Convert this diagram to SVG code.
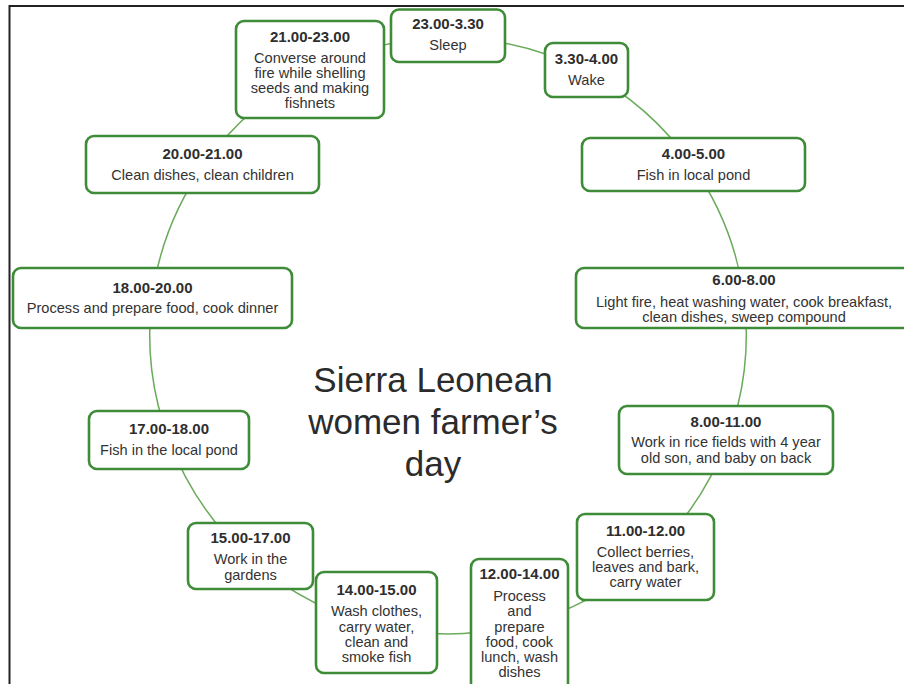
<svg xmlns="http://www.w3.org/2000/svg" width="904" height="684" viewBox="0 0 904 684">
<style>
.box{fill:#fff;stroke:#3f8c38;stroke-width:2.6}
.t{font-family:"Liberation Sans",Arial,sans-serif;font-weight:bold;font-size:15px;fill:#2e2e2e;text-anchor:middle}
.b{font-family:"Liberation Sans",Arial,sans-serif;font-size:14.6px;fill:#333;text-anchor:middle}
.c{fill:none;stroke:#6aab5c;stroke-width:1.5}
.title{font-family:"Liberation Sans",Arial,sans-serif;font-size:35px;fill:#2b2b2b;text-anchor:middle}
</style>
<rect width="904" height="684" fill="#fff"/>
<g id="frame" stroke="#222" stroke-width="2" fill="none">
<line x1="9" y1="6" x2="904" y2="6"/>
<line x1="9.5" y1="5" x2="9.5" y2="684"/>
</g>
<g id="connectors">
<path class="c" d="M448 38 A298 298 0 0 1 585 71"/>
<path class="c" d="M585 71 A298 298 0 0 1 692 165"/>
<path class="c" d="M692 165 A298 298 0 0 1 744 298"/>
<path class="c" d="M744 298 A298 298 0 0 1 727 440"/>
<path class="c" d="M727 440 A298 298 0 0 1 648 557"/>
<path class="c" d="M648 557 A298 298 0 0 1 520 625"/>
<path class="c" d="M520 625 A298 298 0 0 1 380 626"/>
<path class="c" d="M380 626 A298 298 0 0 1 247 556"/>
<path class="c" d="M247 556 A298 298 0 0 1 169 440"/>
<path class="c" d="M169 440 A298 298 0 0 1 152 298"/>
<path class="c" d="M152 298 A298 298 0 0 1 204 165"/>
<path class="c" d="M204 165 A298 298 0 0 1 266 100"/>
<path class="c" d="M266 100 A298 298 0 0 1 448 38"/>
</g>
<g id="n2300">
<rect class="box" x="391" y="9.5" width="114" height="52.5" rx="8"/>
<text class="t" x="448" y="29">23.00-3.30</text>
<text class="b" x="448" y="50">Sleep</text>
</g>
<g id="n0330">
<rect class="box" x="545" y="43" width="83" height="54" rx="8"/>
<text class="t" x="586.5" y="64">3.30-4.00</text>
<text class="b" x="586.5" y="85">Wake</text>
</g>
<g id="n0400">
<rect class="box" x="582" y="138" width="223" height="53" rx="8"/>
<text class="t" x="693.5" y="159">4.00-5.00</text>
<text class="b" x="693.5" y="180">Fish in local pond</text>
</g>
<g id="n0600">
<rect class="box" x="576" y="268" width="336" height="60" rx="8"/>
<text class="t" x="744" y="285">6.00-8.00</text>
<text class="b" x="744" y="307">Light fire, heat washing water, cook breakfast,</text>
<text class="b" x="744" y="322">clean dishes, sweep compound</text>
</g>
<g id="n0800">
<rect class="box" x="619" y="406" width="214" height="68" rx="8"/>
<text class="t" x="726" y="427">8.00-11.00</text>
<text class="b" x="726" y="447">Work in rice fields with 4 year</text>
<text class="b" x="726" y="463">old son, and baby on back</text>
</g>
<g id="n1100">
<rect class="box" x="577" y="514" width="137" height="86" rx="8"/>
<text class="t" x="645.5" y="536">11.00-12.00</text>
<text class="b" x="645.5" y="557">Collect berries,</text>
<text class="b" x="645.5" y="572">leaves and bark,</text>
<text class="b" x="645.5" y="587">carry water</text>
</g>
<g id="n1200">
<rect class="box" x="471" y="559" width="97" height="132" rx="8"/>
<text class="t" x="519.5" y="579">12.00-14.00</text>
<text class="b" x="519.5" y="601">Process</text>
<text class="b" x="519.5" y="616">and</text>
<text class="b" x="519.5" y="632">prepare</text>
<text class="b" x="519.5" y="647">food, cook</text>
<text class="b" x="519.5" y="662">lunch, wash</text>
<text class="b" x="519.5" y="677">dishes</text>
</g>
<g id="n1400">
<rect class="box" x="316" y="572" width="121" height="101" rx="8"/>
<text class="t" x="376.5" y="595">14.00-15.00</text>
<text class="b" x="376.5" y="616">Wash clothes,</text>
<text class="b" x="376.5" y="632">carry water,</text>
<text class="b" x="376.5" y="647">clean and</text>
<text class="b" x="376.5" y="662">smoke fish</text>
</g>
<g id="n1500">
<rect class="box" x="188" y="523" width="125" height="66" rx="8"/>
<text class="t" x="250.5" y="543">15.00-17.00</text>
<text class="b" x="250.5" y="564">Work in the</text>
<text class="b" x="250.5" y="580">gardens</text>
</g>
<g id="n1700">
<rect class="box" x="89" y="411" width="160" height="58" rx="8"/>
<text class="t" x="169" y="434">17.00-18.00</text>
<text class="b" x="169" y="455">Fish in the local pond</text>
</g>
<g id="n1800">
<rect class="box" x="13" y="268" width="279" height="60" rx="8"/>
<text class="t" x="152.5" y="293">18.00-20.00</text>
<text class="b" x="152.5" y="313">Process and prepare food, cook dinner</text>
</g>
<g id="n2000">
<rect class="box" x="86" y="136" width="233" height="57" rx="8"/>
<text class="t" x="202.5" y="159">20.00-21.00</text>
<text class="b" x="202.5" y="180">Clean dishes, clean children</text>
</g>
<g id="n2100">
<rect class="box" x="236" y="21" width="148" height="97" rx="8"/>
<text class="t" x="310" y="42">21.00-23.00</text>
<text class="b" x="310" y="63">Converse around</text>
<text class="b" x="310" y="78">fire while shelling</text>
<text class="b" x="310" y="93">seeds and making</text>
<text class="b" x="310" y="108">fishnets</text>
</g>
<g id="title">
<text class="title" x="433" y="392">Sierra Leonean</text>
<text class="title" x="433" y="434">women farmer’s</text>
<text class="title" x="433" y="476">day</text>
</g>
</svg>
